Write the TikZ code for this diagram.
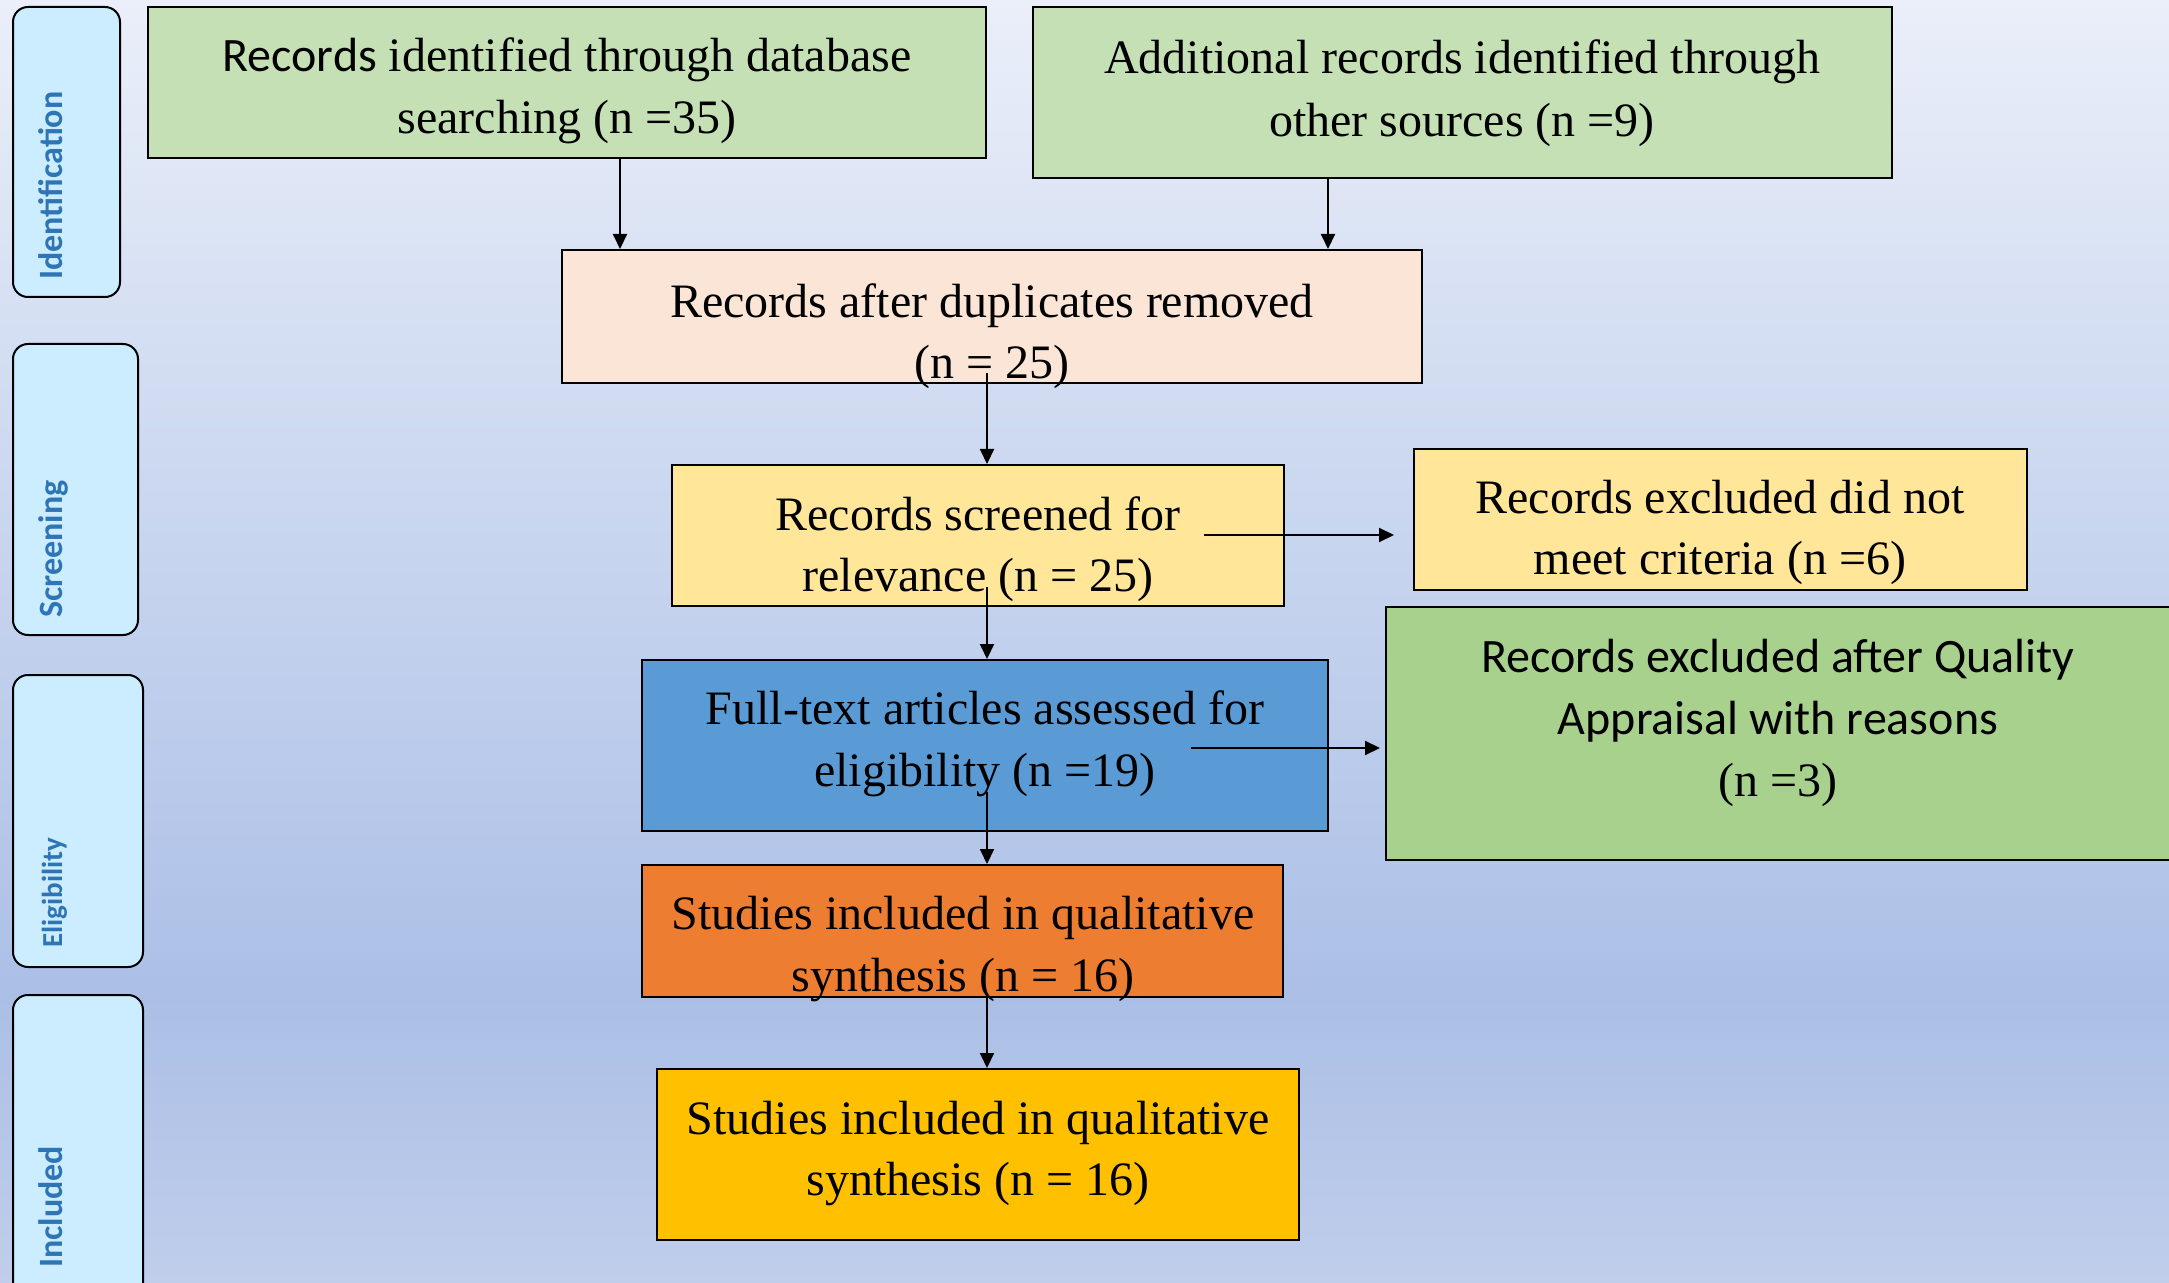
\documentclass[tikz,border=0pt]{standalone}
\usepackage{fontspec}
\setmainfont{Liberation Serif}
\newfontfamily\carl{Carlito}
\usetikzlibrary{arrows.meta}
\definecolor{bgtop}{HTML}{EAEFF9}
\definecolor{bgmid}{HTML}{ABBFE6}
\definecolor{bgbot}{HTML}{C0CEEB}
\definecolor{sidefill}{HTML}{CCECFF}
\definecolor{sidetext}{HTML}{2E75B6}
\definecolor{lgreen}{HTML}{C5E0B4}
\definecolor{peach}{HTML}{FBE5D6}
\definecolor{lyellow}{HTML}{FFE699}
\definecolor{mblue}{HTML}{5B9BD5}
\definecolor{mgreen}{HTML}{A9D18E}
\definecolor{orng}{HTML}{ED7D31}
\definecolor{gold}{HTML}{FFC000}
\tikzset{
  boxnode/.style={draw=black, line width=1pt, rectangle, inner sep=0},
  sidebox/.style={draw=black, line width=1pt, rectangle, rounded corners=7.5pt, fill=sidefill, inner sep=0, minimum width=#1},
  sidelab/.style={rotate=90, anchor=base west, inner sep=0, text=sidetext, font=\carl\bfseries\fontsize{17}{20}\selectfont},
  txt/.style={align=center, inner sep=0, font=\fontsize{24}{30.75}\selectfont},
  arr/.style={draw=black, line width=1pt, -{Triangle[length=7.5pt,width=7pt]}}
}
\begin{document}
\begin{tikzpicture}[x=0.5pt,y=-0.5pt]
\useasboundingbox (0,0) rectangle (2169,1283);
\clip (0,0) rectangle (2169,1283);
% background
\shade[top color=bgtop, bottom color=bgmid] (0,0) rectangle (2169,1000);
\shade[top color=bgmid, bottom color=bgbot] (0,999) rectangle (2169,1283);

% side boxes
\node[sidebox=53.5pt, minimum height=145pt] (S1) at (66.5,152) {};
\node[sidebox=62.5pt, minimum height=145.5pt] (S2) at (75.5,489.5) {};
\node[sidebox=65pt, minimum height=146pt] (S3) at (78,821) {};
\node[sidebox=65pt, minimum height=152.5pt] (S4) at (78,1147.5) {};
\node[sidelab] (L1) at (62,280) {Identification};
\node[sidelab] (L2) at (62,618) {Screening};
\node[sidelab, font=\carl\bfseries\fontsize{14.5}{17}\selectfont] (L3) at (62,948) {Eligibility};
\node[sidelab] (L4) at (62,1268) {Included};

% boxes
\node[boxnode, fill=lgreen, minimum width=419pt, minimum height=75.5pt] (A) at (567,82.5) {};
\node[boxnode, fill=lgreen, minimum width=429.5pt, minimum height=85.5pt] (B) at (1462.5,92.5) {};
\node[boxnode, fill=peach, minimum width=430pt, minimum height=66.5pt] (C) at (992,316.5) {};
\node[boxnode, fill=lyellow, minimum width=306pt, minimum height=70.5pt] (D) at (978,535.5) {};
\node[boxnode, fill=lyellow, minimum width=306.5pt, minimum height=70.5pt] (E) at (1720.5,519.5) {};
\node[boxnode, fill=mblue, minimum width=343pt, minimum height=85.5pt] (F) at (985,745.5) {};
\node[boxnode, fill=mgreen, minimum width=393pt, minimum height=126.5pt] (G) at (1779,733.5) {};
\node[boxnode, fill=orng, minimum width=320.5pt, minimum height=66pt] (H) at (962.5,931) {};
\node[boxnode, fill=gold, minimum width=321pt, minimum height=85.5pt] (I) at (978,1154.5) {};

% texts
\node[txt] (At) at (567,91) {{\carl Records} identified through database\\searching (n =35)};
\node[txt, font=\fontsize{24}{31.5}\selectfont] (Bt) at (1462,93) {Additional records identified through\\other sources (n =9)};
\node[txt] (Ct) at (992,336) {Records after duplicates removed\\(n = 25)};
\node[txt] (Dt) at (978,549) {Records screened for\\relevance (n = 25)};
\node[txt] (Et) at (1720,532.5) {Records excluded did not\\meet criteria (n =6)};
\node[txt] (Ft) at (985,744) {Full-text articles assessed for\\eligibility (n =19)};
\node[txt, font=\fontsize{24}{31}\selectfont] (Gt) at (1778,722.5) {{\carl Records excluded after Quality}\\{\carl Appraisal with reasons}\\(n =3)};
\node[txt] (Ht) at (963,949) {Studies included in qualitative\\synthesis (n = 16)};
\node[txt] (It) at (978,1153.5) {Studies included in qualitative\\synthesis (n = 16)};

% connectors
\coordinate (a1) at (620,158);
\coordinate (b1) at (1328,178);
\coordinate (c1) at (987,373);
\coordinate (d1) at (987,587);
\coordinate (f1) at (987,792);
\coordinate (h1) at (987,997);
\coordinate (d2) at (1204,535);
\coordinate (e2) at (1394,535);
\coordinate (f2) at (1191,748);
\coordinate (g2) at (1380,748);
\draw[arr] (a1) -- (a1 |- C.north);
\draw[arr] (b1) -- (b1 |- C.north);
\draw[arr] (c1) -- (c1 |- D.north);
\draw[arr] (d1) -- (d1 |- F.north);
\draw[arr] (f1) -- (f1 |- H.north);
\draw[arr] (h1) -- (h1 |- I.north);
\draw[arr] (d2) -- (e2);
\draw[arr] (f2) -- (g2);
\end{tikzpicture}
\end{document}
